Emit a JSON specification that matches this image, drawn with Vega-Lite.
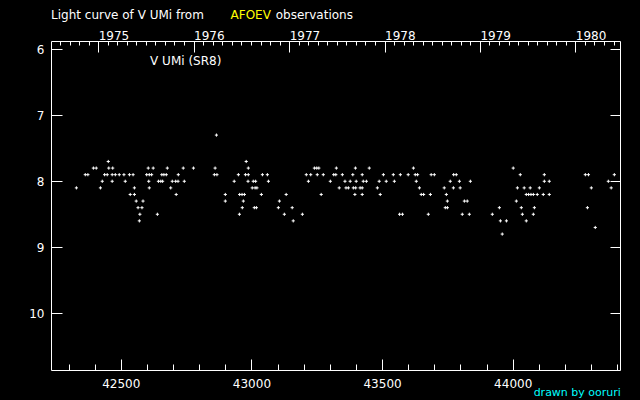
{
"$schema": "https://vega.github.io/schema/vega-lite/v6.json",
"width": 569, "height": 329,
"autosize": "none",
"padding": {"left": 51, "top": 41, "right": 20, "bottom": 30},
"background": "black",
"config": {
 "view": {"stroke": "white", "strokeWidth": 1},
 "axis": {"domain": false, "grid": false, "labelColor": "white", "tickColor": "white", "tickWidth": 1, "labelFont": "DejaVu Sans", "labelFontSize": 12, "title": null, "labelFlush": false, "labelOverlap": false},
 "text": {"font": "DejaVu Sans", "fontSize": 12}
},
"datasets": {"obs": [
{"jd":42330,"mag":8.1},{"jd":42364,"mag":7.9},{"jd":42374,"mag":7.9},{"jd":42395,"mag":7.8},{"jd":42406,"mag":7.8},{"jd":42422,"mag":8.1},{"jd":42429,"mag":8.0},{"jd":42438,"mag":7.9},{"jd":42448,"mag":7.9},{"jd":42452,"mag":7.7},{"jd":42454,"mag":7.8},{"jd":42467,"mag":7.9},{"jd":42467,"mag":8.0},{"jd":42469,"mag":7.8},{"jd":42479,"mag":7.9},{"jd":42494,"mag":7.9},{"jd":42512,"mag":7.9},{"jd":42517,"mag":8.0},{"jd":42533,"mag":7.9},{"jd":42536,"mag":8.2},{"jd":42547,"mag":7.9},{"jd":42552,"mag":8.1},{"jd":42552,"mag":8.2},{"jd":42559,"mag":8.3},{"jd":42566,"mag":8.4},{"jd":42571,"mag":8.6},{"jd":42573,"mag":8.5},{"jd":42581,"mag":8.4},{"jd":42585,"mag":8.3},{"jd":42599,"mag":7.9},{"jd":42605,"mag":7.8},{"jd":42607,"mag":8.0},{"jd":42609,"mag":7.9},{"jd":42609,"mag":8.1},{"jd":42618,"mag":7.9},{"jd":42624,"mag":7.8},
{"jd":42640,"mag":8.5},{"jd":42644,"mag":8.0},{"jd":42653,"mag":8.0},{"jd":42657,"mag":7.9},{"jd":42660,"mag":8.0},{"jd":42665,"mag":7.9},{"jd":42674,"mag":7.9},{"jd":42678,"mag":7.8},{"jd":42691,"mag":8.1},{"jd":42697,"mag":8.0},{"jd":42710,"mag":8.0},{"jd":42712,"mag":8.2},{"jd":42719,"mag":8.0},{"jd":42720,"mag":7.9},{"jd":42739,"mag":7.8},{"jd":42743,"mag":8.0},{"jd":42778,"mag":7.8},{"jd":42858,"mag":7.9},{"jd":42861,"mag":7.8},{"jd":42866,"mag":7.3},{"jd":42868,"mag":7.9},{"jd":42900,"mag":8.2},{"jd":42900,"mag":8.3},{"jd":42934,"mag":8.0},{"jd":42950,"mag":7.9},{"jd":42954,"mag":8.5},{"jd":42955,"mag":8.2},{"jd":42964,"mag":8.2},{"jd":42965,"mag":8.4},{"jd":42969,"mag":8.3},{"jd":42973,"mag":8.2},{"jd":42977,"mag":7.9},{"jd":42980,"mag":7.7},{"jd":42987,"mag":8.0},{"jd":42988,"mag":7.8},{"jd":42988,"mag":7.9},
{"jd":43003,"mag":8.1},{"jd":43007,"mag":8.0},{"jd":43011,"mag":8.4},{"jd":43014,"mag":8.1},{"jd":43016,"mag":8.0},{"jd":43019,"mag":8.4},{"jd":43021,"mag":8.1},{"jd":43038,"mag":8.2},{"jd":43042,"mag":7.9},{"jd":43061,"mag":7.9},{"jd":43065,"mag":8.0},{"jd":43103,"mag":8.4},{"jd":43107,"mag":8.3},{"jd":43126,"mag":8.5},{"jd":43133,"mag":8.2},{"jd":43156,"mag":8.4},{"jd":43160,"mag":8.6},{"jd":43195,"mag":8.5},{"jd":43210,"mag":7.9},{"jd":43218,"mag":8.0},{"jd":43227,"mag":7.9},{"jd":43241,"mag":7.8},{"jd":43250,"mag":7.8},{"jd":43252,"mag":7.9},{"jd":43258,"mag":7.8},{"jd":43267,"mag":8.2},{"jd":43275,"mag":7.9},{"jd":43302,"mag":8.0},{"jd":43315,"mag":7.9},{"jd":43323,"mag":7.9},{"jd":43325,"mag":7.8},{"jd":43336,"mag":8.1},{"jd":43348,"mag":7.9},{"jd":43358,"mag":8.0},{"jd":43362,"mag":8.1},
{"jd":43371,"mag":8.1},{"jd":43378,"mag":8.0},{"jd":43388,"mag":7.9},{"jd":43390,"mag":8.1},{"jd":43396,"mag":8.2},{"jd":43398,"mag":7.8},{"jd":43399,"mag":8.1},{"jd":43401,"mag":8.0},{"jd":43416,"mag":8.1},{"jd":43424,"mag":7.9},{"jd":43424,"mag":8.1},{"jd":43424,"mag":8.2},{"jd":43428,"mag":8.0},{"jd":43440,"mag":8.0},{"jd":43451,"mag":7.8},{"jd":43482,"mag":8.1},{"jd":43489,"mag":8.0},{"jd":43493,"mag":8.2},{"jd":43505,"mag":7.9},{"jd":43516,"mag":8.0},{"jd":43543,"mag":7.9},{"jd":43547,"mag":8.0},{"jd":43567,"mag":8.5},{"jd":43570,"mag":7.9},{"jd":43578,"mag":8.5},{"jd":43600,"mag":7.9},{"jd":43620,"mag":7.8},{"jd":43627,"mag":7.9},{"jd":43631,"mag":8.0},{"jd":43636,"mag":7.9},{"jd":43643,"mag":8.1},{"jd":43650,"mag":8.2},{"jd":43659,"mag":8.2},{"jd":43677,"mag":8.5},{"jd":43685,"mag":8.2},{"jd":43688,"mag":7.9},{"jd":43700,"mag":7.9},
{"jd":43738,"mag":8.1},{"jd":43742,"mag":8.4},{"jd":43746,"mag":8.2},{"jd":43750,"mag":8.3},{"jd":43750,"mag":8.4},{"jd":43761,"mag":8.0},{"jd":43773,"mag":8.1},{"jd":43774,"mag":7.9},{"jd":43784,"mag":7.9},{"jd":43796,"mag":8.0},{"jd":43799,"mag":8.1},{"jd":43807,"mag":8.5},{"jd":43815,"mag":8.3},{"jd":43826,"mag":8.3},{"jd":43834,"mag":8.5},{"jd":43838,"mag":8.0},{"jd":43922,"mag":8.5},{"jd":43949,"mag":8.4},{"jd":43953,"mag":8.6},{"jd":43960,"mag":8.8},{"jd":43976,"mag":8.6},{"jd":44002,"mag":7.8},{"jd":44014,"mag":8.3},{"jd":44018,"mag":8.1},{"jd":44029,"mag":7.9},{"jd":44033,"mag":8.4},{"jd":44037,"mag":8.5},{"jd":44044,"mag":8.1},{"jd":44052,"mag":8.2},{"jd":44052,"mag":8.6},{"jd":44061,"mag":8.2},{"jd":44067,"mag":8.1},{"jd":44070,"mag":8.2},{"jd":44079,"mag":8.2},{"jd":44079,"mag":8.5},{"jd":44083,"mag":8.4},
{"jd":44094,"mag":8.2},{"jd":44102,"mag":8.1},{"jd":44117,"mag":8.2},{"jd":44121,"mag":7.9},{"jd":44121,"mag":8.0},{"jd":44140,"mag":8.0},{"jd":44140,"mag":8.2},{"jd":44278,"mag":7.9},{"jd":44286,"mag":8.4},{"jd":44290,"mag":7.9},{"jd":44301,"mag":8.1},{"jd":44316,"mag":8.7},{"jd":44366,"mag":8.0},{"jd":44377,"mag":8.1},{"jd":44389,"mag":7.9}
],
"note": [{"k": 1}]},
"data": {"name": "obs"},
"resolve": {"axis": {"x": "independent", "y": "independent"}},
"layer": [
 {"mark": {"type": "point", "shape": "M-1,0H1M0,-1V1", "filled": false, "stroke": "white", "strokeWidth": 1, "size": 10, "opacity": 1},
  "encoding": {
   "x": {"field": "jd", "type": "quantitative", "scale": {"domain": [42232.8, 44410.7], "nice": false, "zero": false},
         "axis": {"orient": "bottom", "values": [42500, 43000, 43500, 44000], "ticks": false, "labelPadding": 17, "labelBaseline": "alphabetic", "format": "d"}},
   "y": {"field": "mag", "type": "quantitative", "scale": {"domain": [5.874, 10.86], "reverse": true, "nice": false, "zero": false},
         "axis": {"orient": "left", "values": [6, 7, 8, 9, 10], "ticks": false, "labelPadding": 7, "format": "d"}}
  }},
 {"mark": {"type": "point", "opacity": 0},
  "encoding": {
   "x": {"field": "jd", "type": "quantitative", "axis": {"orient": "bottom", "values": [42500, 43000, 43500, 44000], "labels": false, "tickSize": -11}},
   "y": {"field": "mag", "type": "quantitative", "axis": {"orient": "left", "values": [6, 7, 8, 9, 10], "labels": false, "tickSize": -11}}
  }},
 {"mark": {"type": "point", "opacity": 0},
  "encoding": {
   "x": {"field": "jd", "type": "quantitative", "axis": {"orient": "bottom", "values": [42300, 42400, 42600, 42700, 42800, 42900, 43100, 43200, 43300, 43400, 43600, 43700, 43800, 43900, 44100, 44200, 44300, 44400], "labels": false, "tickSize": -6}},
   "y": {"field": "mag", "type": "quantitative", "axis": {"orient": "right", "values": [6, 7, 8, 9, 10], "labels": false, "tickSize": -10}}
  }},
 {"mark": {"type": "point", "opacity": 0},
  "encoding": {
   "x": {"field": "jd", "type": "quantitative", "axis": {"orient": "top", "values": [42413.5, 42778.5, 43144.5, 43509.5, 43874.5, 44239.5], "ticks": false, "labelAlign": "left", "labelBaseline": "alphabetic", "labelPadding": 2, "labelExpr": "format(1975 + round((datum.value - 42413.5) / 365.25), 'd')"}}
  }},
 {"mark": {"type": "point", "opacity": 0},
  "encoding": {
   "x": {"field": "jd", "type": "quantitative", "axis": {"orient": "top", "values": [42413.5, 42778.5, 43144.5, 43509.5, 43874.5, 44239.5], "labels": false, "tickSize": -11}}
  }},
 {"mark": {"type": "point", "opacity": 0},
  "encoding": {
   "x": {"field": "jd", "type": "quantitative", "axis": {"orient": "top", "values": [42267.4, 42303.9, 42340.5, 42377.0, 42450.0, 42486.5, 42523.0, 42559.5, 42596.0, 42632.5, 42669.0, 42705.5, 42742.0, 42815.1, 42851.7, 42888.3, 42924.9, 42961.5, 42998.1, 43034.7, 43071.3, 43107.9, 43181.0, 43217.5, 43254.0, 43290.5, 43327.0, 43363.5, 43400.0, 43436.5, 43473.0, 43546.0, 43582.5, 43619.0, 43655.5, 43692.0, 43728.5, 43765.0, 43801.5, 43838.0, 43911.0, 43947.5, 43984.0, 44020.5, 44057.0, 44093.5, 44130.0, 44166.5, 44203.0, 44276.1, 44312.7, 44349.3, 44385.9], "labels": false, "tickSize": -4}}
  }},
 {"data": {"name": "note"}, "mark": {"type": "text", "align": "left", "baseline": "alphabetic", "color": "white"},
  "encoding": {"x": {"datum": 42233, "type": "quantitative", "axis": null}, "y": {"datum": 5.541, "type": "quantitative", "axis": null}, "text": {"value": "Light curve of V UMi from"}}},
 {"data": {"name": "note"}, "mark": {"type": "text", "align": "left", "baseline": "alphabetic", "color": "#ffff00"},
  "encoding": {"x": {"datum": 42920, "type": "quantitative", "axis": null}, "y": {"datum": 5.541, "type": "quantitative", "axis": null}, "text": {"value": "AFOEV"}}},
 {"data": {"name": "note"}, "mark": {"type": "text", "align": "left", "baseline": "alphabetic", "color": "white"},
  "encoding": {"x": {"datum": 43093, "type": "quantitative", "axis": null}, "y": {"datum": 5.541, "type": "quantitative", "axis": null}, "text": {"value": "observations"}}},
 {"data": {"name": "note"}, "mark": {"type": "text", "align": "left", "baseline": "alphabetic", "color": "white"},
  "encoding": {"x": {"datum": 42612, "type": "quantitative", "axis": null}, "y": {"datum": 6.238, "type": "quantitative", "axis": null}, "text": {"value": "V UMi (SR8)"}}},
 {"data": {"name": "note"}, "mark": {"type": "text", "align": "right", "baseline": "alphabetic", "color": "#00ffff", "fontSize": 11},
  "encoding": {"x": {"datum": 44414, "type": "quantitative", "axis": null}, "y": {"datum": 11.254, "type": "quantitative", "axis": null}, "text": {"value": "drawn by ooruri"}}}
]
}
